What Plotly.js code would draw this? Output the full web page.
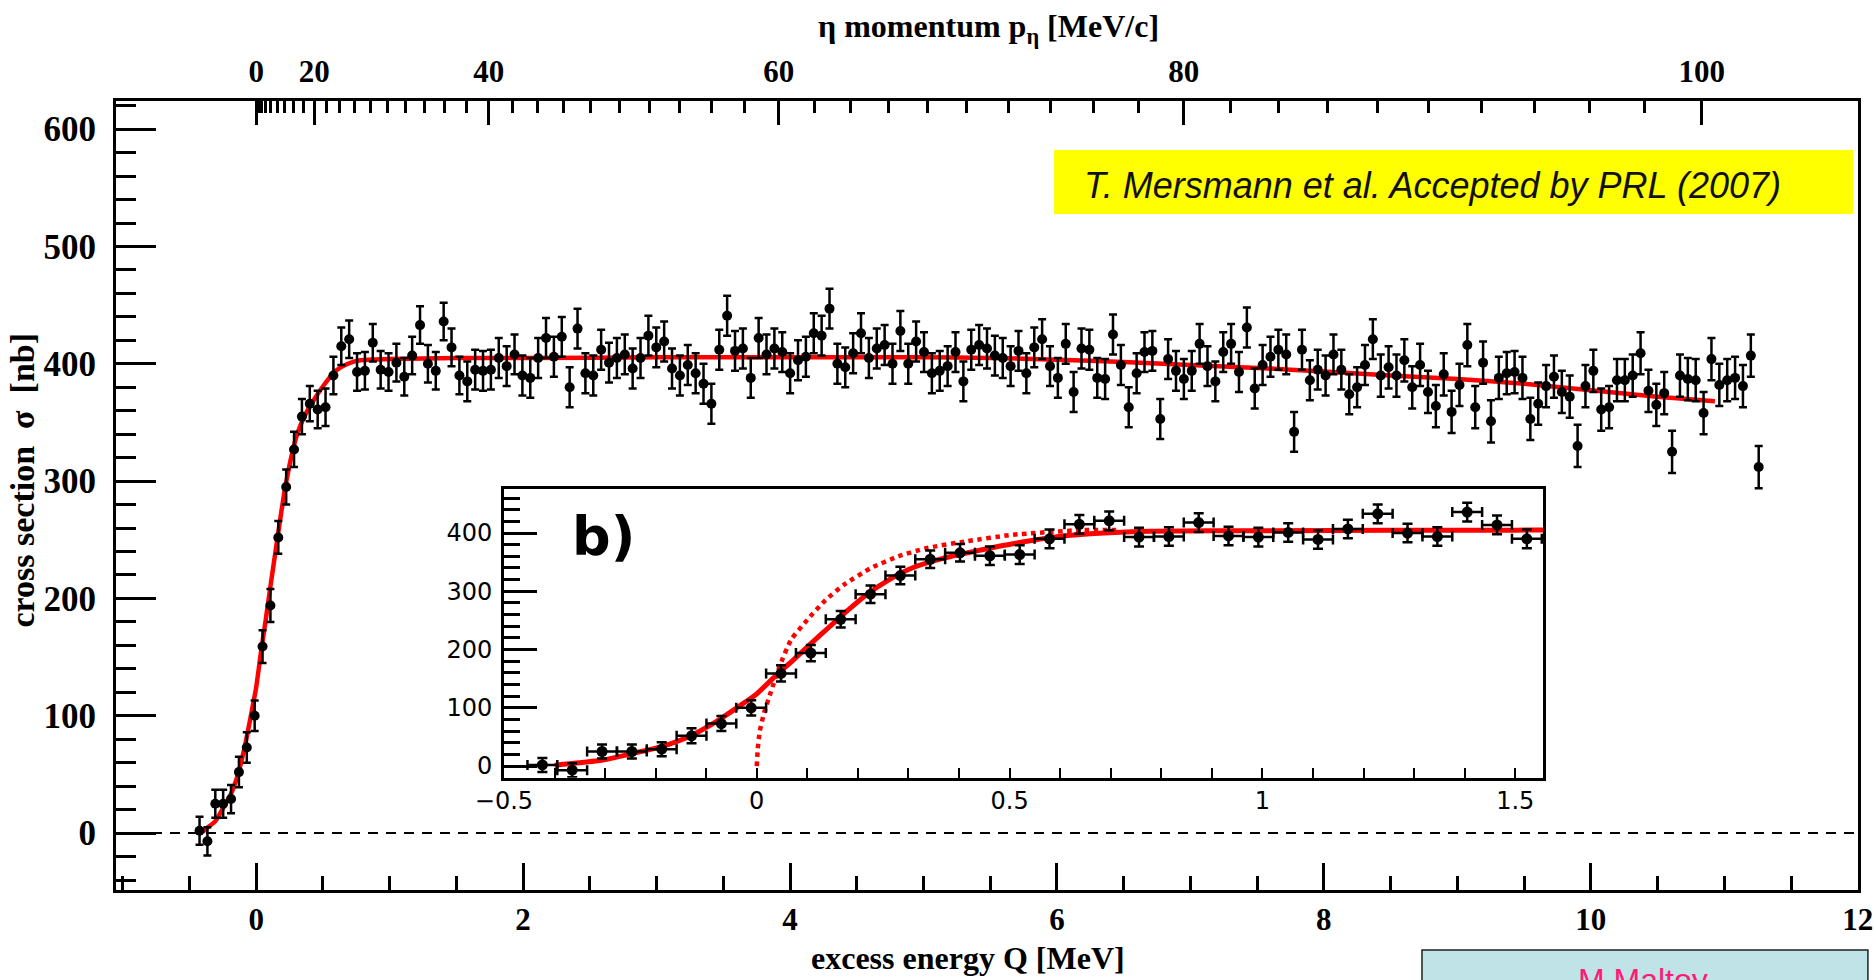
<!DOCTYPE html>
<html>
<head>
<meta charset="utf-8">
<script src="https://cdn.plot.ly/plotly-3.0.1.min.js"></script>
<style>
  html, body { margin: 0; padding: 0; background: #ffffff; }
  #chart { width: 1874px; height: 980px; }
</style>
</head>
<body>
<div id="chart"></div>
<script>
// d p -> 3He eta total cross section versus excess energy Q

// bin centres, excess energy Q [MeV]
const energyQ = [
  -0.424, -0.365, -0.306, -0.247, -0.188, -0.129, -0.070, -0.011, 0.048, 0.107,
  0.166, 0.225, 0.284, 0.343, 0.402, 0.461, 0.520, 0.579, 0.638, 0.697,
  0.756, 0.815, 0.874, 0.933, 0.992, 1.051, 1.110, 1.169, 1.228, 1.287,
  1.346, 1.405, 1.464, 1.523, 1.582, 1.641, 1.700, 1.759, 1.818, 1.877,
  1.936, 1.995, 2.054, 2.113, 2.172, 2.231, 2.290, 2.349, 2.408, 2.467,
  2.526, 2.585, 2.644, 2.703, 2.762, 2.821, 2.880, 2.939, 2.998, 3.057,
  3.116, 3.175, 3.234, 3.293, 3.352, 3.411, 3.470, 3.529, 3.588, 3.647,
  3.706, 3.765, 3.824, 3.883, 3.942, 4.001, 4.060, 4.119, 4.178, 4.237,
  4.296, 4.355, 4.414, 4.473, 4.532, 4.591, 4.650, 4.709, 4.768, 4.827,
  4.886, 4.945, 5.004, 5.063, 5.122, 5.181, 5.240, 5.299, 5.358, 5.417,
  5.476, 5.535, 5.594, 5.653, 5.712, 5.771, 5.830, 5.889, 5.948, 6.007,
  6.066, 6.125, 6.184, 6.243, 6.302, 6.361, 6.420, 6.479, 6.538, 6.597,
  6.656, 6.715, 6.774, 6.833, 6.892, 6.951, 7.010, 7.069, 7.128, 7.187,
  7.246, 7.305, 7.364, 7.423, 7.482, 7.541, 7.600, 7.659, 7.718, 7.777,
  7.836, 7.895, 7.954, 8.013, 8.072, 8.131, 8.190, 8.249, 8.308, 8.367,
  8.426, 8.485, 8.544, 8.603, 8.662, 8.721, 8.780, 8.839, 8.898, 8.957,
  9.016, 9.075, 9.134, 9.193, 9.252, 9.311, 9.370, 9.429, 9.488, 9.547,
  9.606, 9.665, 9.724, 9.783, 9.842, 9.901, 9.960, 10.019, 10.078, 10.137,
  10.196, 10.255, 10.314, 10.373, 10.432, 10.491, 10.550, 10.609, 10.668, 10.727,
  10.786, 10.845, 10.904, 10.963, 11.022, 11.081, 11.140, 11.199, 11.258
];

// cross section sigma [nb]
const sigma = [
  2, -7, 25, 25, 29, 52, 73, 100, 159, 194,
  252, 295, 327, 355, 366, 361, 363, 390, 415, 421,
  393, 394, 418, 395, 393, 401, 389, 407, 433, 400,
  394, 436, 414, 390, 385, 395, 394, 395, 405, 398,
  408, 390, 388, 405, 422, 406, 423, 380, 430, 392,
  390, 412, 401, 405, 408, 396, 405, 424, 414, 419,
  396, 390, 399, 392, 383, 366, 412, 441, 411, 413,
  388, 422, 408, 413, 410, 392, 403, 406, 426, 424,
  447, 400, 397, 409, 426, 405, 413, 416, 400, 428,
  400, 419, 410, 392, 394, 398, 410, 385, 412, 416,
  413, 407, 405, 398, 411, 392, 414, 421, 398, 388,
  417, 376, 413, 412, 388, 387, 425, 399, 363, 392,
  410, 411, 353, 404, 394, 387, 394, 417, 398, 385,
  410, 417, 393, 431, 379, 399, 406, 412, 408, 342,
  412, 386, 395, 390, 408, 395, 374, 380, 399, 421,
  390, 397, 390, 403, 380, 399, 376, 364, 391, 359,
  382, 416, 363, 401, 351, 388, 392, 393, 388, 353,
  366, 381, 389, 376, 372, 330, 381, 394, 361, 363,
  386, 386, 390, 409, 377, 365, 375, 325, 390, 387,
  386, 358, 404, 382, 386, 388, 381, 407, 312
];

// statistical uncertainty of sigma [nb]
const sigmaErr = [
  12, 12, 12, 12, 12, 13, 13, 13, 14, 14,
  14, 15, 15, 15, 15, 16, 16, 16, 16, 16,
  16, 16, 16, 16, 16, 16, 16, 16, 16, 16,
  16, 16, 16, 16, 17, 17, 17, 17, 17, 17,
  17, 17, 17, 17, 17, 17, 17, 17, 17, 17,
  17, 17, 17, 17, 17, 17, 17, 17, 17, 17,
  17, 17, 17, 17, 17, 17, 17, 17, 17, 17,
  17, 17, 17, 17, 17, 17, 17, 17, 17, 17,
  17, 17, 17, 17, 17, 17, 17, 17, 17, 17,
  17, 17, 17, 17, 17, 17, 17, 17, 17, 17,
  17, 17, 17, 17, 17, 17, 17, 17, 17, 17,
  17, 17, 17, 17, 17, 17, 17, 17, 17, 17,
  17, 17, 17, 17, 17, 17, 17, 17, 17, 17,
  17, 17, 17, 17, 17, 17, 17, 17, 17, 17,
  17, 17, 17, 17, 17, 17, 17, 17, 17, 17,
  18, 18, 18, 18, 18, 18, 18, 18, 18, 18,
  18, 18, 18, 18, 18, 18, 18, 18, 18, 18,
  18, 18, 18, 18, 18, 18, 18, 18, 18, 18,
  18, 18, 18, 18, 18, 18, 18, 18, 18, 18,
  18, 18, 18, 18, 18, 18, 18, 18, 18
];

// half width of an energy bin [MeV]
const binHalfWidth = 0.0295;
// number of bins shown in the threshold close-up
const insetBins = 34;

// fit including the beam momentum spread
const fitQ = [-0.40, -0.384, -0.307, -0.244, -0.19, -0.136, -0.081, -0.036, 0, 0.036,
  0.072, 0.108, 0.145, 0.181, 0.217, 0.262, 0.307, 0.37, 0.443, 0.515,
  0.597, 0.687, 0.78, 1.0, 1.5, 2.0, 3.0, 4.0, 5.0, 5.5,
  6.0, 6.5, 7.0, 7.5, 8.0, 8.5, 9.0, 9.5, 10.0, 10.5, 10.93];
const fitSigma = [1, 3, 10, 22, 33, 50, 76, 102, 124, 154,
  182, 211, 240, 268, 294, 320, 340, 357, 371, 383,
  394, 400, 403, 404, 405, 405, 405.5, 405.5, 405.5, 405,
  403.5, 401.5, 399, 396.5, 393.5, 390, 387, 383, 377.5, 372, 368];

// same fit without the momentum spread (dotted)
const thresholdQ = [0, 0.002, 0.006, 0.014, 0.027, 0.045, 0.068, 0.1, 0.136, 0.172,
  0.226, 0.28, 0.335, 0.416, 0.506, 0.642, 0.72];
const thresholdSigma = [0, 30, 60, 90, 125, 171, 217, 251, 285, 311,
  340, 360, 374, 386, 397, 405, 405];

// eta momentum scale on the upper axis [MeV/c]
const pLabelled = [0, 20, 40, 60, 80, 100];
const pStep = 2;
const M_ETA = 547.86;   // MeV
const M_HE3 = 2808.39;  // MeV

// excess energy belonging to an eta momentum p in the c.m. frame
function qFromP(p) {
  return Math.sqrt(M_ETA * M_ETA + p * p) + Math.sqrt(M_HE3 * M_HE3 + p * p) - M_ETA - M_HE3;
}

const pMinor = [];
for (let p = 0; p <= pLabelled[pLabelled.length - 1]; p += pStep) {
  if (pLabelled.indexOf(p) < 0) pMinor.push(p);
}

const serif = 'Liberation Serif, Times New Roman, serif';
const sans = 'DejaVu Sans, Liberation Sans, Arial, sans-serif';
const BLACK = '#000000';
const RED = '#ff0000';

const traces = [
  {
    type: 'scatter', mode: 'lines', x: fitQ, y: fitSigma,
    xaxis: 'x', yaxis: 'y',
    line: { color: RED, width: 4.5, shape: 'spline', smoothing: 0.6 },
    hoverinfo: 'skip'
  },
  {
    type: 'scatter', mode: 'markers', x: energyQ, y: sigma,
    xaxis: 'x', yaxis: 'y',
    marker: { color: BLACK, size: 10 },
    error_y: { type: 'data', array: sigmaErr, color: BLACK, thickness: 2.5, width: 4 }
  },
  {
    type: 'scatter', mode: 'markers', x: [], y: [],
    xaxis: 'x2', yaxis: 'y', hoverinfo: 'skip'
  },
  {
    type: 'scatter', mode: 'lines', x: thresholdQ, y: thresholdSigma,
    xaxis: 'x3', yaxis: 'y3',
    line: { color: RED, width: 4.5, dash: 'dot', shape: 'spline', smoothing: 0.5 },
    hoverinfo: 'skip'
  },
  {
    type: 'scatter', mode: 'lines', x: fitQ, y: fitSigma,
    xaxis: 'x3', yaxis: 'y3',
    line: { color: RED, width: 5, shape: 'spline', smoothing: 0.6 },
    hoverinfo: 'skip'
  },
  {
    type: 'scatter', mode: 'markers',
    x: energyQ.slice(0, insetBins), y: sigma.slice(0, insetBins),
    xaxis: 'x3', yaxis: 'y3',
    marker: { color: BLACK, size: 11 },
    error_y: { type: 'data', array: sigmaErr.slice(0, insetBins), color: BLACK, thickness: 2.5, width: 5 },
    error_x: { type: 'constant', value: binHalfWidth, color: BLACK, thickness: 2.5, width: 5 }
  }
];

const insetX = [0.2227, 0.8192];
const insetY = [0.1423, 0.5078];

// centred text placed in plot-area fractions
function label(x, y, text, font, extra) {
  return Object.assign({ xref: 'paper', yref: 'paper', x: x, y: y, text: text, font: font,
    showarrow: false, xanchor: 'center', yanchor: 'middle' }, extra || {});
}

const layout = {
  width: 1874, height: 980,
  margin: { l: 116, r: 16, t: 101, b: 90 },
  paper_bgcolor: '#ffffff', plot_bgcolor: '#ffffff',
  showlegend: false,
  xaxis: {
    range: [-1.05, 12.002], domain: [0, 1],
    showgrid: false, zeroline: false,
    showline: true, linecolor: BLACK, linewidth: 3, mirror: true,
    tickmode: 'linear', tick0: 0, dtick: 2,
    ticks: 'inside', ticklen: 27, tickwidth: 2.5, tickcolor: BLACK,
    minor: { dtick: 0.5, tick0: 0, ticks: 'inside', ticklen: 14, tickwidth: 2.5, tickcolor: BLACK },
    tickfont: { family: serif, size: 31, color: BLACK, weight: 'bold' },
    ticklabelstandoff: 0
  },
  xaxis2: {
    overlaying: 'x', side: 'top', anchor: 'y',
    range: [-1.05, 12.002],
    showgrid: false, zeroline: false, showline: false,
    tickmode: 'array', tickvals: pLabelled.map(qFromP), ticktext: pLabelled.map(String),
    ticks: 'inside', ticklen: 24, tickwidth: 2.5, tickcolor: BLACK,
    minor: { tickmode: 'array', tickvals: pMinor.map(qFromP), ticks: 'inside', ticklen: 12, tickwidth: 2.5, tickcolor: BLACK },
    tickfont: { family: serif, size: 31, color: BLACK, weight: 'bold' },
    ticklabelstandoff: 12
  },
  yaxis: {
    range: [-48.5, 624], domain: [0, 1],
    showgrid: false, zeroline: false,
    showline: true, linecolor: BLACK, linewidth: 3, mirror: true,
    tickmode: 'linear', tick0: 0, dtick: 100,
    ticks: 'inside', ticklen: 40, tickwidth: 2.5, tickcolor: BLACK,
    minor: { dtick: 20, tick0: 0, ticks: 'inside', ticklen: 20, tickwidth: 2.5, tickcolor: BLACK },
    tickfont: { family: serif, size: 35, color: BLACK, weight: 'bold' },
    ticklabelstandoff: 10
  },
  xaxis3: {
    domain: insetX, anchor: 'y3', range: [-0.5, 1.555],
    showgrid: false, zeroline: false,
    showline: true, linecolor: BLACK, linewidth: 2.5, mirror: true,
    tickmode: 'linear', tick0: 0, dtick: 0.5,
    ticks: 'inside', ticklen: 10, tickwidth: 2, tickcolor: BLACK,
    minor: { dtick: 0.1, tick0: 0, ticks: 'inside', ticklen: 10, tickwidth: 2, tickcolor: BLACK },
    tickfont: { family: sans, size: 24, color: BLACK },
    ticklabelstandoff: 0
  },
  yaxis3: {
    domain: insetY, anchor: 'x3', range: [-20, 475],
    showgrid: false, zeroline: false,
    showline: true, linecolor: BLACK, linewidth: 2.5, mirror: true,
    tickmode: 'linear', tick0: 0, dtick: 100,
    ticks: 'inside', ticklen: 33, tickwidth: 2.5, tickcolor: BLACK,
    minor: { dtick: 20, tick0: 0, ticks: 'inside', ticklen: 16, tickwidth: 2.5, tickcolor: BLACK },
    tickfont: { family: sans, size: 24, color: BLACK },
    ticklabelstandoff: 4
  },
  shapes: [
    // sigma = 0 reference lines
    { type: 'line', xref: 'x domain', x0: 0, x1: 1, yref: 'y', y0: 0, y1: 0,
      line: { color: BLACK, width: 2, dash: '10px,8px' }, layer: 'below' },
    { type: 'line', xref: 'x3 domain', x0: 0, x1: 1, yref: 'y3', y0: 0, y1: 0,
      line: { color: BLACK, width: 2, dash: '10px,8px' }, layer: 'below' },
    // publication banner
    { type: 'rect', xref: 'paper', yref: 'paper', x0: 0.5385, x1: 0.9971, y0: 0.8568, y1: 0.9379,
      fillcolor: '#ffff00', line: { width: 0 }, layer: 'below' },
    // speaker box
    { type: 'rect', xref: 'paper', yref: 'paper', x0: 0.7497, x1: 1.0057, y0: -0.135, y1: -0.076,
      fillcolor: '#bfe3e6', line: { color: '#222222', width: 1.5 }, layer: 'above' }
  ],
  annotations: [
    label(0.5011, 1.0925, '\u03b7 momentum p<sub>\u03b7</sub> [MeV/c]',
      { family: serif, size: 32, color: BLACK, weight: 'bold' }),
    label(0.489, -0.0868, 'excess energy Q [MeV]',
      { family: serif, size: 32, color: BLACK, weight: 'bold' }),
    label(-0.0535, 0.52, 'cross section  \u03c3  [nb]',
      { family: serif, size: 34, color: BLACK, weight: 'bold' }, { textangle: -90 }),
    label(0.7555, 0.8935, '<i>T. Mersmann et al. Accepted by PRL (2007)</i>',
      { family: 'Liberation Sans, Arial, sans-serif', size: 36, color: '#111111' }),
    label(0.2799, 0.448, '<b>b)</b>', { family: sans, size: 54, color: BLACK }),
    label(0.8766, -0.0887, 'M.Maltoy',
      { family: 'Liberation Sans, Arial, sans-serif', size: 32, color: '#ff1a75' }, { yanchor: 'top' })
  ]
};

Plotly.newPlot('chart', traces, layout, { displayModeBar: false, responsive: false });
</script>
</body>
</html>
